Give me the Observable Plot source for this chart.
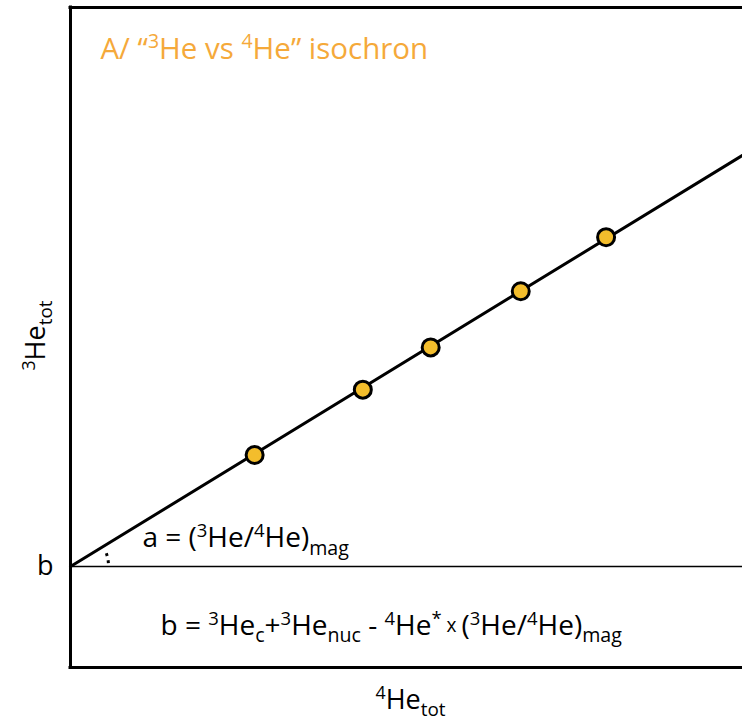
<!DOCTYPE html>
<html>
<head>
<meta charset="utf-8">
<script src="https://cdn.jsdelivr.net/npm/d3@7"></script>
<script src="https://cdn.jsdelivr.net/npm/@observablehq/plot@0.6"></script>
<style>
  html, body { margin: 0; padding: 0; background: #fff; }
  #chart svg { display: block; }
</style>
</head>
<body>
<div id="chart"></div>
<script>
// Isochron samples (arbitrary units): 4He_tot on x, 3He_tot on y
const sampleHe4 = [2.74, 4.35, 5.36, 6.70, 7.97];
const sampleHe3 = [3.22, 4.21, 4.85, 5.70, 6.52];

// Isochron line: intercept b and its end points across the frame
const interceptB = 1.53;
const fitHe4 = [0, 10];
const fitHe3 = [1.53, 7.76];

// Labels; ^{..} superscript, _{..} subscript, ~{..} small inline text
const titleText = "A/ \u201C^{3}He vs ^{4}He\u201D isochron";
const slopeText = "a = (^{3}He/^{4}He)_{mag}";
const interceptText = "b = ^{3}He_{c}+^{3}He_{nuc} - ^{4}He^{*}~{ x }(^{3}He/^{4}He)_{mag}";
const xLabel = "^{4}He_{tot}";
const yLabel = "^{3}He_{tot}";

const samples = sampleHe4.map((x, i) => ({x, y: sampleHe3[i]}));
const fit = fitHe4.map((x, i) => ({x, y: fitHe3[i]}));

const FONT = "'Open Sans', sans-serif";
const ORANGE = "#F5A93A";
const GOLD = "#F3BD2C";

// Dotted angle marker between the baseline and the isochron at the intercept
function angleMarker(index, scales) {
  const cx = scales.x(fitHe4[0]), cy = scales.y(fitHe3[0]);
  const ex = scales.x(fitHe4[1]), ey = scales.y(fitHe3[1]);
  const theta = Math.atan2(cy - ey, ex - cx);
  const r = 38.5, end = theta * 0.82;
  const path = `M${cx + r},${cy} A${r},${r} 0 0 0 ${cx + r * Math.cos(end)},${cy - r * Math.sin(end)}`;
  return d3.create("svg:path")
    .attr("d", path)
    .attr("fill", "none")
    .attr("stroke", "black")
    .attr("stroke-width", 3)
    .attr("stroke-dasharray", "2.8 4.4")
    .attr("stroke-dashoffset", 4.3)
    .node();
}

const plot = Plot.plot({
  width: 742,
  height: 726,
  marginLeft: 70,
  marginRight: 0,
  marginTop: 7,
  marginBottom: 59,
  style: {fontFamily: FONT, background: "white", overflow: "visible"},
  x: {domain: [0, 10], axis: null},
  y: {domain: [0, 10], axis: null},
  marks: [
    Plot.ruleY([interceptB], {stroke: "black", strokeWidth: 1.5}),
    Plot.line(fit, {x: "x", y: "y", stroke: "black", strokeWidth: 3}),
    angleMarker,
    Plot.dot(samples, {x: "x", y: "y", r: 8.5, fill: GOLD, stroke: "black", strokeWidth: 3}),
    Plot.ruleX([0], {stroke: "black", strokeWidth: 3, strokeLinecap: "square"}),
    Plot.ruleY([0, 10], {stroke: "black", strokeWidth: 3, strokeLinecap: "square"}),
    Plot.axisY([interceptB], {tickSize: 0, tickPadding: 17, tickFormat: () => "b", label: null, fontSize: 27, fill: "black"}),
    Plot.text([titleText], {x: 0.446, y: 9.37, text: d => d, textAnchor: "start", fill: ORANGE, fontSize: 29.5}),
    Plot.text([slopeText], {x: 1.07, y: 1.96, text: d => d, textAnchor: "start", fill: "black", fontSize: 28}),
    Plot.text([interceptText], {x: 1.34, y: 0.63, text: d => d, textAnchor: "start", fill: "black", fontSize: 28}),
    Plot.text([xLabel], {x: 5.06, y: -0.5, text: d => d, fill: "black", fontSize: 27, clip: false}),
    Plot.text([yLabel], {x: -0.51, y: 5.03, text: d => d, rotate: -90, fill: "black", fontSize: 27, letterSpacing: 1.5, clip: false})
  ]
});

document.getElementById("chart").appendChild(plot);

// Rebuild marked-up labels with raised / lowered tspans
function richText(el) {
  const s = el.textContent;
  if (!/[\^_~]\{/.test(s)) return;
  const size = parseFloat(getComputedStyle(el).fontSize);
  el.textContent = "";
  const re = /([\^_~])\{([^}]*)\}|([^\^_~]+)/g;
  let shift = 0, m;
  while ((m = re.exec(s))) {
    let target = 0, fs = size, str = m[3];
    if (m[1] === "^") { target = -0.36 * size; fs = 0.66 * size; str = m[2]; }
    else if (m[1] === "_") { target = 0.27 * size; fs = 0.7 * size; str = m[2]; }
    else if (m[1] === "~") { target = -0.12 * size; fs = 0.68 * size; str = m[2]; }
    const t = document.createElementNS("http://www.w3.org/2000/svg", "tspan");
    t.setAttribute("font-size", fs);
    t.setAttribute("xml:space", "preserve");
    t.style.whiteSpace = "pre";
    if (target !== shift) t.setAttribute("dy", target - shift);
    t.textContent = str;
    el.appendChild(t);
    shift = target;
  }
}
plot.querySelectorAll("text").forEach(richText);
</script>
</body>
</html>
